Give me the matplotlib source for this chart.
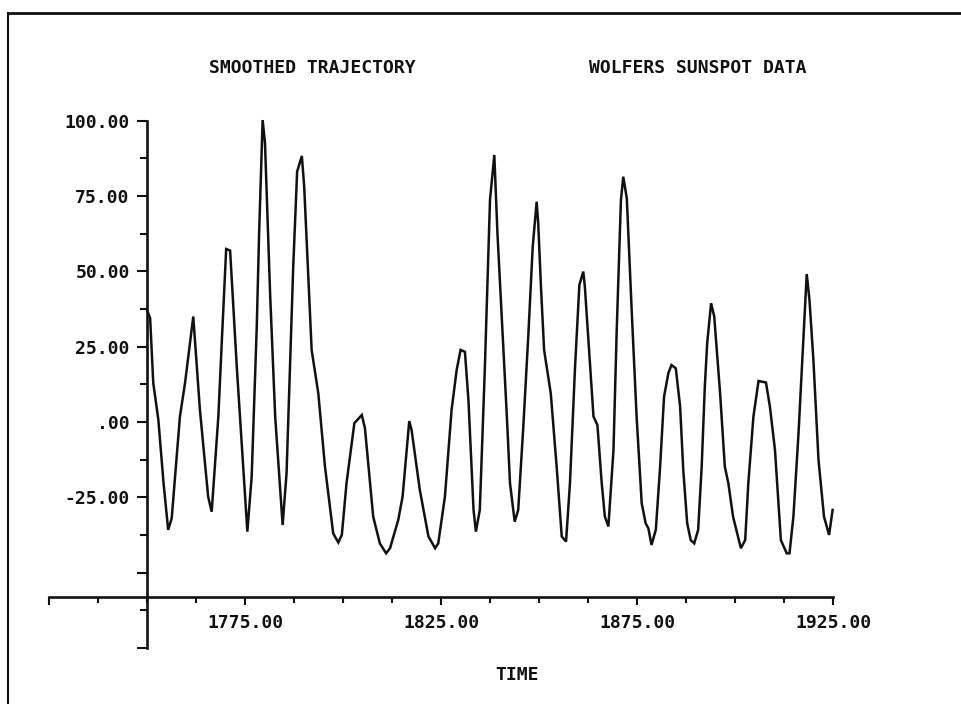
"""
Smoothed trajectory of the Wolfer sunspot series, drawn in the style of an
old pen-plotter listing: floating axes, zero-padded tick labels, block caps.
"""

import matplotlib

matplotlib.use("Agg")
import matplotlib.pyplot as plt
from matplotlib.lines import Line2D
from matplotlib.ticker import FixedFormatter, FixedLocator

# smoothed series (year, deviation from mean)
years = [
    1750.0, 1750.8, 1751.6, 1752.9, 1754.2, 1755.4, 1756.3, 1758.4, 1759.7, 1761.8,
    1763.5, 1765.6, 1766.5, 1768.2, 1769.1, 1770.2, 1771.2, 1772.9, 1775.6, 1776.7,
    1778.0, 1778.6, 1779.5, 1780.1, 1781.4, 1782.7, 1784.6, 1785.6, 1787.3, 1788.3,
    1789.5, 1790.1, 1792.0, 1793.7, 1795.4, 1797.5, 1798.8, 1799.7, 1800.9, 1802.9,
    1804.8, 1805.6, 1807.7, 1809.4, 1811.0, 1812.0, 1814.1, 1815.2, 1816.9, 1817.5,
    1819.6, 1821.8, 1823.5, 1824.3, 1826.0, 1827.7, 1829.0, 1830.0, 1831.1, 1832.0,
    1833.3, 1833.9, 1834.9, 1836.2, 1837.5, 1838.6, 1839.4, 1840.5, 1841.8, 1842.6,
    1843.8, 1844.7, 1846.0, 1847.3, 1848.4, 1849.4, 1849.8, 1850.5, 1851.3, 1853.0,
    1854.5, 1855.8, 1856.9, 1857.9, 1859.2, 1860.3, 1861.3, 1861.7, 1862.6, 1863.9,
    1864.9, 1866.0, 1866.8, 1867.7, 1869.0, 1869.8, 1870.9, 1871.5, 1872.4, 1873.6,
    1874.9, 1876.2, 1877.2, 1877.9, 1878.7, 1879.8, 1880.9, 1881.9, 1883.0, 1883.8,
    1884.9, 1886.0, 1886.8, 1887.8, 1888.7, 1889.6, 1890.6, 1891.5, 1892.3, 1892.9,
    1893.9, 1894.7, 1896.2, 1897.4, 1898.3, 1899.5, 1901.5, 1902.6, 1903.4, 1904.7,
    1906.0, 1907.9, 1908.9, 1910.2, 1911.7, 1913.2, 1913.9, 1914.9, 1916.2, 1917.3,
    1918.3, 1919.0, 1920.0, 1921.3, 1922.7, 1924.0, 1924.9,
]
values = [
    37.2, 34.4, 12.9, 0.7, -20.0, -35.8, -32.0, 1.8, 12.9, 35.0,
    4.0, -24.8, -29.8, 1.8, 27.2, 57.4, 56.9, 18.4, -36.4, -18.2,
    31.6, 62.6, 100.2, 92.6, 42.7, 1.8, -34.2, -17.0, 51.5, 83.1,
    88.3, 78.1, 23.9, 9.5, -14.8, -37.0, -40.0, -37.5, -20.3, -0.4,
    2.3, -2.1, -31.4, -40.3, -43.6, -41.9, -32.5, -24.8, 0.3, -2.7,
    -22.6, -38.0, -41.9, -40.3, -24.8, 4.0, 17.3, 23.9, 23.3, 7.3,
    -29.2, -36.4, -29.2, 18.4, 73.7, 88.6, 62.6, 35.0, 1.8, -20.3,
    -33.1, -29.2, -1.5, 29.4, 58.2, 73.1, 65.9, 44.9, 23.9, 9.5,
    -14.8, -38.0, -39.7, -20.3, 18.4, 45.5, 49.9, 44.9, 27.2, 1.8,
    -1.0, -20.3, -31.4, -34.7, -9.3, 29.4, 73.7, 81.4, 74.2, 38.3,
    1.8, -27.0, -33.6, -35.3, -40.8, -35.8, -14.8, 8.4, 16.2, 18.9,
    17.8, 5.1, -15.9, -33.6, -39.2, -40.3, -35.8, -14.8, 11.7, 26.1,
    39.4, 35.0, 9.5, -14.8, -20.3, -31.4, -41.9, -39.2, -20.3, 1.8,
    13.6, 13.1, 5.1, -9.3, -39.2, -43.6, -43.6, -31.4, -3.8, 23.9,
    49.1, 40.5, 20.6, -12.6, -31.4, -37.5, -29.2,
]

x_major = [1725, 1775, 1825, 1875, 1925]
x_major_labels = ["", "1775.00", "1825.00", "1875.00", "1925.00"]
x_minor = [1737.5, 1750, 1762.5, 1787.5, 1800, 1812.5, 1837.5, 1850, 1862.5,
           1887.5, 1900, 1912.5]

y_major = [-75, -50, -25, 0, 25, 50, 75, 100]
y_major_labels = ["", "", "-25.00", ".00", "25.00", "50.00", "75.00", "100.00"]
y_minor = [-62.5, -37.5, -12.5, 12.5, 37.5, 62.5, 87.5]

title_left = "SMOOTHED TRAJECTORY"
title_right = "WOLFERS SUNSPOT DATA"
x_title = "TIME"

INK = "#111111"
FONT = dict(family="DejaVu Sans Mono", weight="bold", size=13, color=INK)

W, H = 961, 704


def main():
    fig = plt.figure(figsize=(W / 100, H / 100), dpi=100)
    fig.patch.set_facecolor("white")

    # pixel box chosen so 1750 / 0.0 sit where the plotter put its origin
    left, right, top, bottom = 29.4, 852.6, 105.6, 663.0
    ax = fig.add_axes([left / W, (H - bottom) / H, (right - left) / W, (bottom - top) / H])
    ax.set_xlim(1720, 1930)
    ax.set_ylim(-80, 105)
    ax.patch.set_alpha(0)

    ax.plot(years, values, color=INK, linewidth=1.8, solid_joinstyle="miter")

    # floating axes: vertical at 1750, horizontal below the trough line
    for side in ("top", "right"):
        ax.spines[side].set_visible(False)
    ax.spines["left"].set_position(("data", 1750))
    ax.spines["left"].set_bounds(-75, 100)
    ax.spines["bottom"].set_position(("data", -58))
    ax.spines["bottom"].set_bounds(1725, 1925)
    for side in ("left", "bottom"):
        ax.spines[side].set_linewidth(1.9)
        ax.spines[side].set_color(INK)

    ax.xaxis.set_major_locator(FixedLocator(x_major))
    ax.xaxis.set_major_formatter(FixedFormatter(x_major_labels))
    ax.xaxis.set_minor_locator(FixedLocator(x_minor))
    ax.yaxis.set_major_locator(FixedLocator(y_major))
    ax.yaxis.set_major_formatter(FixedFormatter(y_major_labels))
    ax.yaxis.set_minor_locator(FixedLocator(y_minor))

    ax.tick_params(axis="y", which="major", direction="out", length=7.5, width=1.5,
                   color=INK, pad=5)
    ax.tick_params(axis="y", which="minor", direction="out", length=5, width=1.5, color=INK)
    ax.tick_params(axis="x", which="major", direction="out", length=5.5, width=1.5,
                   color=INK, pad=7)
    ax.tick_params(axis="x", which="minor", direction="out", length=4, width=1.5, color=INK)
    for lab in ax.get_xticklabels() + ax.get_yticklabels():
        lab.set_fontfamily(FONT["family"])
        lab.set_fontweight(FONT["weight"])
        lab.set_fontsize(FONT["size"])
        lab.set_color(INK)

    fig.text(312 / W, (H - 68) / H, title_left, ha="center", va="center", **FONT)
    fig.text(698 / W, (H - 68) / H, title_right, ha="center", va="center", **FONT)
    fig.text(517 / W, (H - 675) / H, x_title, ha="center", va="center", **FONT)

    # edge of the sheet
    fig.add_artist(Line2D([8 / W, 1.0], [1 - 13 / H, 1 - 13 / H],
                          transform=fig.transFigure, color=INK, linewidth=2))
    fig.add_artist(Line2D([8 / W, 8 / W], [0.0, 1 - 13 / H],
                          transform=fig.transFigure, color=INK, linewidth=1.5))

    fig.savefig("out.png", dpi=100, facecolor="white")
    plt.close(fig)


if __name__ == "__main__":
    main()
